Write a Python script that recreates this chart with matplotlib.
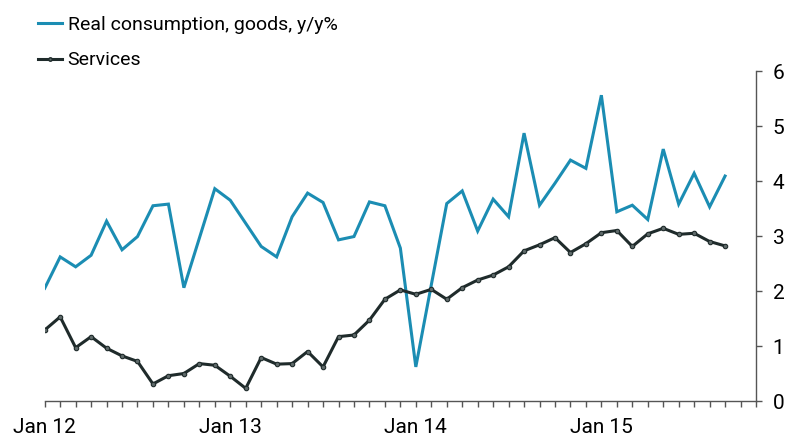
import numpy as np
import matplotlib.pyplot as plt
from matplotlib.lines import Line2D

plt.rcParams['font.family'] = ['Roboto', 'DejaVu Sans']

# monthly, Jan 2012 .. Sep 2015
months = np.arange(45)
goods = [2.05, 2.62, 2.44, 2.65, 3.27, 2.75, 2.99, 3.55, 3.58, 2.06, 2.96, 3.86,
         3.65, 3.23, 2.81, 2.62, 3.35, 3.78, 3.61, 2.93, 2.99, 3.62, 3.55, 2.78,
         0.62, 2.11, 3.59, 3.82, 3.09, 3.67, 3.35, 4.87, 3.56, 3.96, 4.38, 4.23,
         5.56, 3.44, 3.56, 3.30, 4.58, 3.58, 4.14, 3.53, 4.09]
services = [1.29, 1.53, 0.97, 1.17, 0.96, 0.82, 0.72, 0.31, 0.46, 0.50, 0.68, 0.65,
            0.45, 0.23, 0.79, 0.67, 0.68, 0.90, 0.62, 1.17, 1.20, 1.47, 1.85, 2.02,
            1.94, 2.03, 1.85, 2.06, 2.20, 2.29, 2.44, 2.73, 2.84, 2.97, 2.70, 2.86,
            3.06, 3.10, 2.81, 3.04, 3.14, 3.03, 3.05, 2.90, 2.82]
xtick_pos = [0, 12, 24, 36]
xtick_labels = ['Jan 12', 'Jan 13', 'Jan 14', 'Jan 15']

blue = '#1b8db3'
dark = '#1f2b2b'
grey = '#555555'
mfill = '#5f6a6a'

fig = plt.figure(figsize=(8, 4.48), dpi=100)
ax = fig.add_axes([0.0559, 0.1049, 0.8891, 0.7366])

ax.plot(months, goods, color=blue, lw=2.2, solid_joinstyle='miter')
ax.plot(months, services, color=dark, lw=2.2, marker='o', ms=3.2,
        mfc=mfill, mec=dark, mew=0.8)

ax.set_xlim(0, 46)
ax.set_ylim(0, 6)
ax.set_xticks(np.arange(47), minor=True)
ax.set_xticks(xtick_pos)
ax.set_xticklabels(xtick_labels)
ax.tick_params(axis='x', which='both', length=4, color=grey, width=1)
ax.tick_params(axis='x', which='major', labelsize=15, pad=8)

ax.yaxis.tick_right()
ax.set_yticks(range(7))
ax.tick_params(axis='y', length=4, color=grey, width=1, labelsize=15, pad=8)

for s in ['top', 'left']:
    ax.spines[s].set_visible(False)
for s in ['bottom', 'right']:
    ax.spines[s].set_color(grey)
    ax.spines[s].set_linewidth(1)

handles = [Line2D([], [], color=blue, lw=2.2),
           Line2D([], [], color=dark, lw=2.2, marker='o', ms=2.5, mfc=mfill, mec=dark)]
fig.legend(handles, ['Real consumption, goods, y/y%', 'Services'],
           loc='upper left', bbox_to_anchor=(0.0375, 0.982), frameon=False,
           fontsize=14, handlelength=1.24, handletextpad=0.3, labelspacing=0.9,
           borderaxespad=0)

fig.savefig('out.png', dpi=100)
